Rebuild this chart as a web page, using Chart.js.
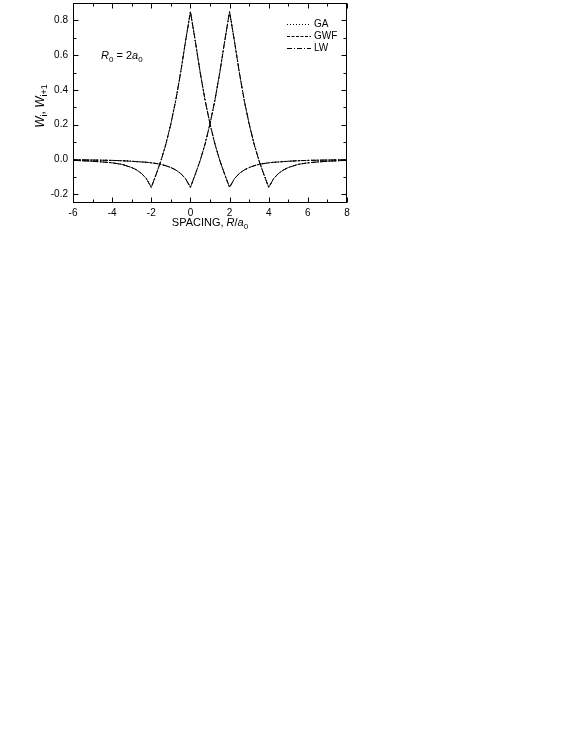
<!DOCTYPE html>
<html>
<head>
<meta charset="utf-8">
<script src="https://cdn.jsdelivr.net/npm/chart.js@4/dist/chart.umd.min.js"></script>
<style>
  html, body { margin: 0; padding: 0; background: #fff; }
  #wrap { position: absolute; left: 0; top: 0; width: 360px; height: 250px; }
</style>
</head>
<body>
<div id="wrap"><canvas id="wannier_chart"></canvas></div>
<script>
// spacing R/a0 where the curves were read
const spacing = [-6, -5.5, -5, -4.5, -4, -3.5,
  -3, -2.75, -2.5, -2.25, -2, -1.75, -1.5, -1.25, -1, -0.75, -0.5, -0.25,
  0, 0.25, 0.5, 0.75, 1, 1.25, 1.5, 1.75, 2, 2.25, 2.5, 2.75,
  3, 3.25, 3.5, 3.75, 4, 4.25, 4.5, 4.75, 5,
  5.5, 6, 6.5, 7, 7.5, 8]

// W_i (peak at 0) - the three methods lie on top of each other at this scale
const wI = [-0.005, -0.007, -0.010, -0.014, -0.019, -0.028,
  -0.046, -0.060, -0.080, -0.110, -0.160, -0.085, -0.005, 0.090, 0.205, 0.340, 0.500, 0.680,
  0.850, 0.680, 0.500, 0.340, 0.205, 0.090, -0.005, -0.085, -0.160, -0.110, -0.080, -0.060,
  -0.046, -0.036, -0.028, -0.023, -0.019, -0.016, -0.014, -0.012, -0.010,
  -0.007, -0.005, -0.004, -0.003, -0.002, -0.001]

// W_i+1 (peak at 2)
const wI1 = [-0.001, -0.002, -0.003, -0.004, -0.005, -0.007,
  -0.010, -0.012, -0.014, -0.016, -0.019, -0.023, -0.028, -0.036, -0.046, -0.060, -0.080, -0.110,
  -0.160, -0.085, -0.005, 0.090, 0.205, 0.340, 0.500, 0.680, 0.850, 0.680, 0.500, 0.340,
  0.205, 0.090, -0.005, -0.085, -0.160, -0.110, -0.080, -0.060, -0.046,
  -0.028, -0.019, -0.014, -0.010, -0.007, -0.005]

const methods = ["GA", "GWF", "LW"]
const dashes = {GA: [1, 2], GWF: [3, 1.5], LW: [5, 2, 1, 2]}

const xTicks = [-6, -4, -2, 0, 2, 4, 6, 8]
const xMinor = [-5, -3, -1, 1, 3, 5, 7]
const yTicks = [-0.2, 0, 0.2, 0.4, 0.6, 0.8]
const yMinor = [-0.1, 0.1, 0.3, 0.5, 0.7]

const FONT = "'Liberation Sans', Arial, sans-serif"

const datasets = []
for (const m of methods) {
    for (const curve of [wI, wI1]) {
        datasets.push({
            label: m,
            data: spacing.map((x, k) => ({x: x, y: curve[k]})),
            borderColor: '#000',
            borderWidth: 1,
            borderDash: dashes[m],
            pointRadius: 0,
            tension: 0,
            fill: false
        })
    }
}

function drawSub(ctx, parts, x, y, align, size) {
    // parts: [text, italic, sub]
    const big = size || 11
    const small = big - 3
    const fontOf = (p) => (p[1] ? 'italic ' : '') + (p[2] ? small : big) + 'px ' + FONT
    let total = 0
    const widths = parts.map(p => {
        ctx.font = fontOf(p)
        const w = ctx.measureText(p[0]).width
        total += w
        return w
    })
    let cx = align === 'center' ? x - total / 2 : x
    parts.forEach((p, i) => {
        ctx.font = fontOf(p)
        ctx.fillText(p[0], cx, p[2] ? y + 3 : y)
        cx += widths[i]
    })
}

const decorations = {
    id: 'decorations',
    afterDraw(chart) {
        const ctx = chart.ctx
        const a = chart.chartArea
        const xs = chart.scales.x
        const ys = chart.scales.y
        ctx.save()
        ctx.strokeStyle = '#000'
        ctx.lineWidth = 1
        ctx.setLineDash([])
        const L = Math.round(a.left) + 0.5, R = Math.round(a.right) - 0.5
        const T = Math.round(a.top) + 0.5, B = Math.round(a.bottom) - 0.5
        ctx.strokeRect(L, T, R - L, B - T)

        ctx.beginPath()
        const tickX = (v, len) => {
            const px = Math.round(xs.getPixelForValue(v)) + 0.5
            ctx.moveTo(px, B); ctx.lineTo(px, B - len)
            ctx.moveTo(px, T); ctx.lineTo(px, T + len)
        }
        const tickY = (v, len) => {
            const py = Math.round(ys.getPixelForValue(v)) + 0.5
            ctx.moveTo(L, py); ctx.lineTo(L + len, py)
            ctx.moveTo(R, py); ctx.lineTo(R - len, py)
        }
        xTicks.forEach(v => tickX(v, 5))
        xMinor.forEach(v => tickX(v, 3))
        yTicks.forEach(v => tickY(v, 5))
        yMinor.forEach(v => tickY(v, 3))
        ctx.stroke()

        // legend
        ctx.fillStyle = '#000'
        ctx.textBaseline = 'middle'
        methods.forEach((m, i) => {
            const y = 24 + i * 12 + 0.5
            ctx.beginPath()
            ctx.setLineDash(dashes[m])
            ctx.moveTo(287, y); ctx.lineTo(311, y)
            ctx.stroke()
            ctx.setLineDash([])
            ctx.font = '10px ' + FONT
            ctx.fillText(m, 314, y)
        })

        // annotation R0 = 2a0
        ctx.textBaseline = 'alphabetic'
        drawSub(ctx, [['R', true, false], ['0', false, true], [' = 2', false, false], ['a', true, false], ['0', false, true]], 101, 59, 'left', 11)

        // x title
        drawSub(ctx, [['SPACING, ', false, false], ['R', true, false], ['/', false, false], ['a', true, false], ['0', false, true]], (a.left + a.right) / 2, 226, 'center', 11)

        // y title
        ctx.translate(44, 106)
        ctx.rotate(-Math.PI / 2)
        drawSub(ctx, [['W', true, false], ['i', false, true], [', ', false, false], ['W', true, false], ['i+1', false, true]], 0, 0, 'center', 12)
        ctx.restore()
    }
}

const wannier_chart = new Chart(document.getElementById("wannier_chart"), {
    type: 'line',
    data: { datasets: datasets },
    options: {
        responsive: true,
        maintainAspectRatio: false,
        animation: false,
        layout: { padding: { top: 3, right: 13, left: 0, bottom: 0 } },
        plugins: {
            legend: { display: false },
            tooltip: { enabled: false }
        },
        scales: {
            x: {
                type: 'linear',
                min: -6,
                max: 8,
                afterFit: (s) => { s.height = 47; s.paddingLeft = 0; s.paddingRight = 0 },
                afterBuildTicks: (s) => { s.ticks = xTicks.map(v => ({value: v})) },
                grid: { display: false, drawTicks: false },
                border: { display: false },
                ticks: {
                    padding: 4,
                    color: '#000',
                    font: { family: FONT, size: 10 },
                    maxRotation: 0,
                    callback: (v) => String(v)
                }
            },
            y: {
                type: 'linear',
                min: -0.25,
                max: 0.9,
                afterFit: (s) => { s.width = 73; s.paddingTop = 0; s.paddingBottom = 0 },
                afterBuildTicks: (s) => { s.ticks = yTicks.map(v => ({value: v})) },
                grid: { display: false, drawTicks: false },
                border: { display: false },
                ticks: {
                    padding: 5,
                    color: '#000',
                    font: { family: FONT, size: 10 },
                    callback: (v) => v.toFixed(1)
                }
            }
        }
    },
    plugins: [decorations]
})
</script>
</body>
</html>
